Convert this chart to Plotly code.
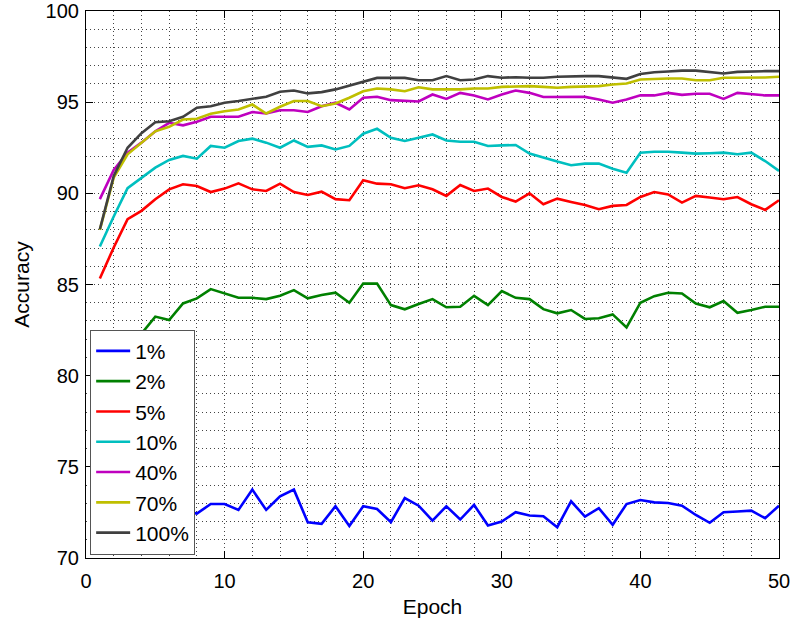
import plotly.graph_objects as go

epochs = list(range(1, 51))

acc_1 = [70.5, 71.5, 72.0, 72.3, 72.5, 72.4, 72.6, 72.44, 72.96, 72.96,
         72.64, 73.75, 72.64, 73.38, 73.75, 71.96, 71.87, 72.84, 71.75, 72.84,
         72.69, 71.96, 73.29, 72.87, 72.05, 72.84, 72.11, 72.91, 71.78, 72.0,
         72.51, 72.33, 72.29, 71.69, 73.11, 72.27, 72.73, 71.82, 72.96, 73.18,
         73.05, 73.02, 72.87, 72.36, 71.93, 72.51, 72.55, 72.6, 72.18, 72.87]
acc_2 = [75.0, 78.5, 80.5, 82.3, 83.24, 83.05, 83.96, 84.24, 84.75, 84.5,
         84.27, 84.27, 84.2, 84.38, 84.69, 84.24, 84.42, 84.55, 84.0, 85.05,
         85.05, 83.87, 83.64, 83.93, 84.2, 83.75, 83.78, 84.38, 83.87, 84.64,
         84.27, 84.2, 83.65, 83.42, 83.6, 83.11, 83.15, 83.36, 82.65, 84.0,
         84.36, 84.55, 84.51, 83.96, 83.75, 84.09, 83.45, 83.6, 83.78, 83.78]
acc_5 = [85.33, 87.03, 88.58, 89.04, 89.68, 90.22, 90.5, 90.4, 90.07, 90.26,
         90.55, 90.22, 90.13, 90.53, 90.07, 89.91, 90.09, 89.68, 89.62, 90.72,
         90.53, 90.5, 90.28, 90.44, 90.22, 89.86, 90.46, 90.13, 90.26, 89.8,
         89.55, 90.0, 89.4, 89.71, 89.53, 89.36, 89.13, 89.31, 89.36, 89.8,
         90.07, 89.94, 89.49, 89.86, 89.77, 89.68, 89.8, 89.4, 89.09, 89.62]
acc_10 = [87.08, 88.73, 90.28, 90.86, 91.41, 91.83, 92.05, 91.9, 92.6, 92.5,
          92.87, 93.0, 92.78, 92.5, 92.9, 92.55, 92.63, 92.41, 92.6, 93.27,
          93.54, 93.05, 92.87, 93.05, 93.23, 92.9, 92.83, 92.83, 92.6, 92.63,
          92.65, 92.18, 91.95, 91.74, 91.54, 91.63, 91.63, 91.35, 91.13, 92.23,
          92.28, 92.28, 92.23, 92.18, 92.2, 92.23, 92.14, 92.23, 91.77, 91.23]
acc_40 = [89.68, 91.28, 92.23, 92.78, 93.4, 93.87, 93.73, 93.93, 94.2, 94.2,
          94.2, 94.46, 94.38, 94.56, 94.56, 94.46, 94.78, 94.97, 94.6, 95.24,
          95.3, 95.11, 95.09, 95.04, 95.42, 95.18, 95.51, 95.37, 95.15, 95.42,
          95.64, 95.51, 95.28, 95.29, 95.29, 95.29, 95.15, 94.97, 95.15, 95.38,
          95.37, 95.51, 95.4, 95.46, 95.46, 95.18, 95.51, 95.42, 95.37, 95.37]
acc_70 = [88.0, 90.86, 92.14, 92.78, 93.4, 93.65, 94.05, 94.09, 94.36, 94.5,
          94.6, 94.87, 94.38, 94.75, 95.06, 95.06, 94.78, 94.93, 95.24, 95.6,
          95.75, 95.7, 95.6, 95.82, 95.7, 95.7, 95.7, 95.75, 95.75, 95.84,
          95.88, 95.88, 95.84, 95.79, 95.84, 95.84, 95.88, 95.97, 96.02, 96.24,
          96.28, 96.3, 96.3, 96.2, 96.2, 96.34, 96.34, 96.34, 96.35, 96.39]
acc_100 = [88.03, 90.95, 92.5, 93.3, 93.9, 93.95, 94.2, 94.7, 94.78, 94.97,
           95.06, 95.2, 95.3, 95.57, 95.64, 95.48, 95.55, 95.7, 95.92, 96.1,
           96.33, 96.33, 96.33, 96.2, 96.2, 96.43, 96.2, 96.24, 96.43, 96.34,
           96.37, 96.34, 96.34, 96.39, 96.43, 96.43, 96.43, 96.34, 96.28, 96.55,
           96.64, 96.68, 96.73, 96.73, 96.66, 96.57, 96.66, 96.7, 96.7, 96.7]

series_names = ["1%", "2%", "5%", "10%", "40%", "70%", "100%"]
series_values = [acc_1, acc_2, acc_5, acc_10, acc_40, acc_70, acc_100]
colors = ["#0000FF", "#008000", "#FF0000", "#00BFBF", "#BF00BF", "#BFBF00", "#404040"]

x_ticks = [0, 10, 20, 30, 40, 50]
y_ticks = [70, 75, 80, 85, 90, 95, 100]

FONT = "Liberation Sans, Arial, Helvetica, sans-serif"
GRID_DASH = "1px,3px"
GRID_COLOR = "#444444"

fig = go.Figure()
for name, vals, col in zip(series_names, series_values, colors):
    fig.add_trace(go.Scatter(x=epochs, y=vals, mode="lines", name=name,
                             legendgroup=name,
                             line=dict(color=col, width=2.6)))

axis_common = dict(
    showline=True, linecolor="black", linewidth=1.2, mirror="ticks",
    ticks="inside", ticklen=7, tickcolor="black", tickwidth=1,
    showgrid=True, gridcolor=GRID_COLOR, griddash=GRID_DASH, gridwidth=1,
    zeroline=False, automargin=False,
    tickfont=dict(family=FONT, size=20, color="black"),
)

fig.update_xaxes(range=[0, 50], tickvals=x_ticks, ticklabelstandoff=5,
                 title=dict(text="Epoch", font=dict(family=FONT, size=21, color="black"), standoff=8),
                 minor=dict(dtick=2, showgrid=True, gridcolor=GRID_COLOR, griddash=GRID_DASH, gridwidth=1, ticks=""),
                 **axis_common)
fig.update_yaxes(range=[70, 100], tickvals=y_ticks, ticklabelstandoff=2,
                 title=dict(text="Accuracy", font=dict(family=FONT, size=21, color="black"), standoff=10),
                 minor=dict(dtick=1, showgrid=True, gridcolor=GRID_COLOR, griddash=GRID_DASH, gridwidth=1, ticks=""),
                 **axis_common)

fig.update_layout(
    width=793, height=628,
    margin=dict(l=86, r=14, t=11, b=70),
    paper_bgcolor="white", plot_bgcolor="white",
    font=dict(family=FONT, color="black"),
    showlegend=True,
    legend=dict(x=0.006, y=0.006, xanchor="left", yanchor="bottom",
                bgcolor="white", bordercolor="#555555", borderwidth=1,
                font=dict(family=FONT, size=21, color="black"),
                tracegroupgap=0, itemwidth=34),
)

fig.write_html("out.html")
